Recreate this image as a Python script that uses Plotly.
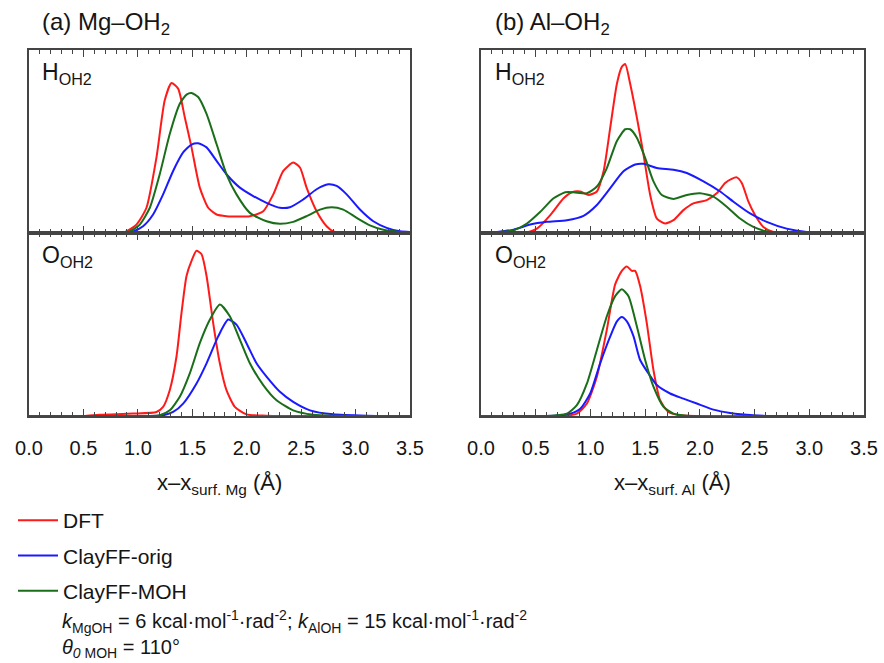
import plotly.graph_objects as go

# ---------------- data (x in Å, y in arbitrary units) ----------------
# (a) Mg-OH2, H_OH2
mg_h_dft_x = [0.0, 0.8, 0.895, 0.987, 1.079, 1.171, 1.247, 1.309, 1.370, 1.431, 1.493, 1.569, 1.646, 1.723, 1.814, 2.029, 2.152, 2.244, 2.336, 2.427, 2.489, 2.550, 2.642, 2.734, 2.795, 2.948, 3.5]
mg_h_dft_y = [0.0, 0.0, 0.009, 0.046, 0.138, 0.413, 0.725, 0.820, 0.789, 0.633, 0.468, 0.248, 0.138, 0.101, 0.092, 0.092, 0.119, 0.211, 0.339, 0.385, 0.358, 0.248, 0.119, 0.037, 0.009, 0.0, 0.0]
mg_h_orig_x = [0.0, 0.85, 0.956, 1.048, 1.140, 1.232, 1.324, 1.416, 1.493, 1.554, 1.631, 1.723, 1.814, 1.937, 2.060, 2.182, 2.305, 2.397, 2.519, 2.642, 2.749, 2.826, 2.918, 3.040, 3.163, 3.286, 3.408, 3.5]
mg_h_orig_y = [0.0, 0.0, 0.009, 0.037, 0.101, 0.211, 0.339, 0.440, 0.483, 0.490, 0.468, 0.394, 0.321, 0.248, 0.202, 0.165, 0.138, 0.141, 0.183, 0.239, 0.266, 0.257, 0.211, 0.128, 0.064, 0.028, 0.009, 0.006]
mg_h_moh_x = [0.0, 0.82, 0.926, 1.018, 1.110, 1.201, 1.293, 1.385, 1.447, 1.493, 1.554, 1.631, 1.723, 1.814, 1.906, 2.029, 2.182, 2.305, 2.427, 2.550, 2.673, 2.780, 2.887, 3.010, 3.132, 3.255, 3.408, 3.5]
mg_h_moh_y = [0.0, 0.0, 0.009, 0.046, 0.138, 0.321, 0.541, 0.706, 0.756, 0.765, 0.743, 0.651, 0.486, 0.321, 0.211, 0.110, 0.064, 0.050, 0.061, 0.092, 0.128, 0.141, 0.128, 0.083, 0.042, 0.018, 0.006, 0.002]

# (a) Mg-OH2, O_OH2
mg_o_dft_x = [0.0, 0.5, 0.65, 0.956, 1.171, 1.232, 1.293, 1.355, 1.401, 1.447, 1.493, 1.539, 1.585, 1.631, 1.692, 1.753, 1.814, 1.891, 1.998, 2.18, 3.5]
mg_o_dft_y = [0.0, 0.0, 0.007, 0.013, 0.022, 0.050, 0.141, 0.325, 0.563, 0.765, 0.848, 0.903, 0.884, 0.765, 0.508, 0.288, 0.141, 0.050, 0.009, 0.002, 0.0]
mg_o_orig_x = [0.0, 1.1, 1.232, 1.324, 1.416, 1.539, 1.631, 1.738, 1.830, 1.906, 1.998, 2.090, 2.182, 2.305, 2.427, 2.581, 2.795, 3.1, 3.5]
mg_o_orig_y = [0.0, 0.0, 0.004, 0.022, 0.068, 0.178, 0.288, 0.435, 0.527, 0.499, 0.398, 0.288, 0.215, 0.132, 0.077, 0.031, 0.009, 0.002, 0.0]
mg_o_moh_x = [0.0, 1.1, 1.201, 1.293, 1.385, 1.477, 1.569, 1.662, 1.753, 1.845, 1.937, 2.029, 2.152, 2.274, 2.427, 2.611, 2.795, 3.5]
mg_o_moh_y = [0.0, 0.0, 0.004, 0.031, 0.105, 0.233, 0.398, 0.527, 0.609, 0.545, 0.417, 0.288, 0.169, 0.086, 0.031, 0.007, 0.002, 0.0]

# (b) Al-OH2, H_OH2
al_h_dft_x = [0.0, 0.39, 0.511, 0.633, 0.755, 0.831, 0.907, 0.983, 1.059, 1.12, 1.181, 1.242, 1.287, 1.318, 1.363, 1.424, 1.485, 1.546, 1.607, 1.683, 1.759, 1.850, 1.941, 2.063, 2.154, 2.231, 2.291, 2.337, 2.383, 2.444, 2.504, 2.580, 2.672, 2.82, 3.5]
al_h_dft_y = [0.0, 0.0, 0.024, 0.098, 0.190, 0.223, 0.227, 0.208, 0.227, 0.337, 0.576, 0.816, 0.908, 0.923, 0.816, 0.632, 0.429, 0.208, 0.079, 0.052, 0.070, 0.125, 0.162, 0.180, 0.217, 0.273, 0.296, 0.304, 0.273, 0.171, 0.098, 0.033, 0.006, 0.0, 0.0]
al_h_orig_x = [0.0, 0.146, 0.298, 0.450, 0.602, 0.785, 0.937, 1.059, 1.181, 1.302, 1.409, 1.485, 1.607, 1.759, 1.881, 2.033, 2.185, 2.307, 2.459, 2.611, 2.793, 2.976, 3.22, 3.5]
al_h_orig_y = [0.0, 0.006, 0.018, 0.046, 0.061, 0.070, 0.094, 0.153, 0.245, 0.337, 0.374, 0.378, 0.355, 0.346, 0.328, 0.282, 0.227, 0.171, 0.107, 0.061, 0.024, 0.006, 0.0, 0.0]
al_h_moh_x = [0.0, 0.176, 0.298, 0.420, 0.542, 0.663, 0.770, 0.846, 0.968, 1.059, 1.150, 1.242, 1.318, 1.363, 1.424, 1.500, 1.576, 1.652, 1.759, 1.881, 2.002, 2.124, 2.246, 2.367, 2.489, 2.611, 2.763, 3.5]
al_h_moh_y = [0.0, 0.006, 0.015, 0.052, 0.116, 0.190, 0.223, 0.223, 0.217, 0.254, 0.355, 0.503, 0.567, 0.567, 0.521, 0.411, 0.282, 0.208, 0.186, 0.208, 0.217, 0.199, 0.144, 0.079, 0.033, 0.009, 0.0, 0.0]

# (b) Al-OH2, O_OH2
al_o_dft_x = [0.0, 0.7, 0.785, 0.876, 0.968, 1.059, 1.150, 1.226, 1.287, 1.333, 1.378, 1.409, 1.454, 1.515, 1.576, 1.637, 1.713, 1.820, 3.5]
al_o_dft_y = [0.0, 0.0, 0.002, 0.013, 0.068, 0.215, 0.472, 0.719, 0.793, 0.817, 0.793, 0.793, 0.710, 0.508, 0.251, 0.086, 0.022, 0.004, 0.0]
al_o_orig_x = [0.0, 0.6, 0.724, 0.816, 0.907, 0.998, 1.089, 1.181, 1.242, 1.287, 1.333, 1.394, 1.454, 1.530, 1.607, 1.728, 1.850, 1.972, 2.124, 2.276, 2.489, 2.672, 3.5]
al_o_orig_y = [0.0, 0.0, 0.004, 0.013, 0.040, 0.123, 0.288, 0.435, 0.517, 0.541, 0.517, 0.435, 0.306, 0.233, 0.169, 0.123, 0.095, 0.068, 0.035, 0.017, 0.004, 0.0, 0.0]
al_o_moh_x = [0.0, 0.6, 0.694, 0.785, 0.876, 0.968, 1.059, 1.150, 1.226, 1.287, 1.348, 1.424, 1.500, 1.576, 1.668, 1.759, 1.88, 3.5]
al_o_moh_y = [0.0, 0.0, 0.004, 0.013, 0.059, 0.178, 0.361, 0.545, 0.655, 0.692, 0.655, 0.490, 0.306, 0.160, 0.050, 0.013, 0.002, 0.0]

series_names = ["DFT", "ClayFF-orig", "ClayFF-MOH"]
series_colors = ["#ff1a1a", "#1a1aff", "#1a6e1a"]
x_ticks = [0.0, 0.5, 1.0, 1.5, 2.0, 2.5, 3.0, 3.5]
x_tick_labels = ["0.0", "0.5", "1.0", "1.5", "2.0", "2.5", "3.0", "3.5"]
x_titles = ["x\u2013x<sub>surf. Mg</sub> (Å)", "x\u2013x<sub>surf. Al</sub> (Å)"]

panels = [
    ("x", "y", [(mg_h_dft_x, mg_h_dft_y), (mg_h_orig_x, mg_h_orig_y), (mg_h_moh_x, mg_h_moh_y)]),
    ("x2", "y2", [(mg_o_dft_x, mg_o_dft_y), (mg_o_orig_x, mg_o_orig_y), (mg_o_moh_x, mg_o_moh_y)]),
    ("x3", "y3", [(al_h_dft_x, al_h_dft_y), (al_h_orig_x, al_h_orig_y), (al_h_moh_x, al_h_moh_y)]),
    ("x4", "y4", [(al_o_dft_x, al_o_dft_y), (al_o_orig_x, al_o_orig_y), (al_o_moh_x, al_o_moh_y)]),
]

W, H = 884, 663
FONT = "Liberation Sans, Arial, sans-serif"
TXT = "#151515"
fig = go.Figure()
for pi, (xa, ya, curves) in enumerate(panels):
    for si, (xs, ys) in enumerate(curves):
        fig.add_trace(go.Scatter(
            x=xs, y=ys, mode="lines", xaxis=xa, yaxis=ya,
            name=series_names[si], legendgroup=series_names[si],
            showlegend=(pi == 0),
            line=dict(color=series_colors[si], width=2, shape="spline", smoothing=0.6),
            hoverinfo="skip",
        ))

def px_x(p):
    return p / W

def px_y(p):
    return 1 - p / H

left_dom = [px_x(29), px_x(410)]
right_dom = [px_x(481), px_x(864)]
top_dom = [px_y(233), px_y(50)]
bot_dom = [px_y(416), px_y(233)]

axis_common = dict(
    range=[0, 3.5], tickvals=x_ticks, ticktext=x_tick_labels,
    ticks="inside", ticklen=7, tickwidth=1, tickcolor="#444",
    showline=True, linecolor="#444", linewidth=1.6, mirror="ticks",
    showgrid=False, zeroline=False, automargin=False,
    minor=dict(dtick=0.1, tick0=0, ticks="inside", ticklen=4, tickcolor="#444", showgrid=False),
    tickfont=dict(family=FONT, size=20, color=TXT),
    ticklabelstandoff=13,
)
yaxis_common = dict(
    range=[0, 1.0], showticklabels=False, ticks="", showline=True, linecolor="#444",
    linewidth=1.6, mirror=True, showgrid=False, zeroline=False, automargin=False,
)

fig.update_layout(
    width=W, height=H, margin=dict(l=0, r=0, t=0, b=0, autoexpand=False),
    paper_bgcolor="white", plot_bgcolor="white",
    font=dict(family=FONT, size=20, color=TXT),
    xaxis=dict(axis_common, domain=left_dom, anchor="y", showticklabels=False),
    yaxis=dict(yaxis_common, domain=top_dom, anchor="x"),
    xaxis2=dict(axis_common, domain=left_dom, anchor="y2"),
    yaxis2=dict(yaxis_common, domain=bot_dom, anchor="x2"),
    xaxis3=dict(axis_common, domain=right_dom, anchor="y3", showticklabels=False),
    yaxis3=dict(yaxis_common, domain=top_dom, anchor="x3"),
    xaxis4=dict(axis_common, domain=right_dom, anchor="y4"),
    yaxis4=dict(yaxis_common, domain=bot_dom, anchor="x4"),
    showlegend=True,
    legend=dict(x=px_x(13), y=px_y(500), xanchor="left", yanchor="top",
                bgcolor="rgba(0,0,0,0)", font=dict(family=FONT, size=21, color=TXT),
                tracegroupgap=5, traceorder="grouped", itemwidth=40),
)

ann = [
    dict(x=px_x(40), y=px_y(24), text="(a) Mg\u2013OH<sub>2</sub>", size=24, anchor="left"),
    dict(x=px_x(493), y=px_y(24), text="(b) Al\u2013OH<sub>2</sub>", size=24, anchor="left"),
    dict(x=px_x(40), y=px_y(73), text="H<sub>OH2</sub>", size=23, anchor="left"),
    dict(x=px_x(493), y=px_y(73), text="H<sub>OH2</sub>", size=23, anchor="left"),
    dict(x=px_x(40), y=px_y(257), text="O<sub>OH2</sub>", size=23, anchor="left"),
    dict(x=px_x(493), y=px_y(257), text="O<sub>OH2</sub>", size=23, anchor="left"),
    dict(x=px_x(219), y=px_y(484), text=x_titles[0], size=22, anchor="center"),
    dict(x=px_x(672), y=px_y(484), text=x_titles[1], size=22, anchor="center"),
    dict(x=px_x(60), y=px_y(621),
         text="<i>k</i><sub>MgOH</sub> = 6 kcal·mol<sup>-1</sup>·rad<sup>-2</sup>; <i>k</i><sub>AlOH</sub> = 15 kcal·mol<sup>-1</sup>·rad<sup>-2</sup>",
         size=20, anchor="left"),
    dict(x=px_x(60), y=px_y(648), text="<i>θ<sub>0</sub></i><sub> MOH</sub> = 110°", size=20, anchor="left"),
]
for a in ann:
    fig.add_annotation(x=a["x"], y=a["y"], xref="paper", yref="paper", text=a["text"],
                       showarrow=False, xanchor=a["anchor"], yanchor="middle",
                       font=dict(family=FONT, size=a["size"], color=TXT))

fig.write_html("out.html", config={"displayModeBar": False},
               post_script="document.body.style.margin='0';")
